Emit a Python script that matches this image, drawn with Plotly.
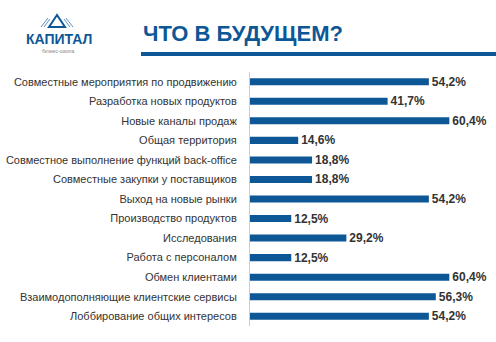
import plotly.graph_objects as go

categories = [
    "Совместные мероприятия по продвижению",
    "Разработка новых продуктов",
    "Новые каналы продаж",
    "Общая территория",
    "Совместное выполнение функций back-office",
    "Совместные закупки у поставщиков",
    "Выход на новые рынки",
    "Производство продуктов",
    "Исследования",
    "Работа с персоналом",
    "Обмен клиентами",
    "Взаимодополняющие клиентские сервисы",
    "Лоббирование общих интересов",
]
values = [54.2, 41.7, 60.4, 14.6, 18.8, 18.8, 54.2, 12.5, 29.2, 12.5, 60.4, 56.3, 54.2]
value_labels = ["54,2%", "41,7%", "60,4%", "14,6%", "18,8%", "18,8%", "54,2%",
                "12,5%", "29,2%", "12,5%", "60,4%", "56,3%", "54,2%"]
title_text = "ЧТО В БУДУЩЕМ?"
logo_text = "КАПИТАЛ"
logo_sub = "бизнес-школа"

W, H = 496, 342
L, R, T, B = 250, 6, 72, 16
BLUE = "#0d5797"


def px(x):
    return (x - L) / (W - L - R)


def py(y):
    return (H - B - y) / (H - T - B)


fig = go.Figure(go.Bar(
    y=categories,
    x=values,
    orientation="h",
    marker=dict(color=BLUE, line=dict(width=0)),
    width=0.36,
    text=value_labels,
    textposition="outside",
    textfont=dict(family="Liberation Sans", size=12, color="#333333", weight="bold"),
    constraintext="none",
    cliponaxis=False,
))

shapes = [
    dict(type="line", xref="paper", yref="paper", x0=px(141), x1=px(496), y0=py(54), y1=py(54),
         line=dict(color=BLUE, width=4)),
]
# logo icon: triangle with side wings
tri = "M {},{} L {},{} L {},{} Z".format(px(49), py(27), px(57), py(15), px(65), py(27))
shapes.append(dict(type="path", xref="paper", yref="paper", path=tri,
                   line=dict(color=BLUE, width=2), fillcolor="rgba(0,0,0,0)"))
for (x0, y0, x1, y1) in [(44, 27, 50, 19), (41, 27, 48, 18), (70, 27, 64, 19), (73, 27, 66, 18)]:
    shapes.append(dict(type="line", xref="paper", yref="paper", x0=px(x0), y0=py(y0), x1=px(x1), y1=py(y1),
                       line=dict(color="#5d8fc0", width=1)))

annotations = [
    dict(text=title_text, xref="paper", yref="paper", x=px(141), y=py(33), xanchor="left", yanchor="middle",
         showarrow=False, font=dict(family="Liberation Sans", size=22, color=BLUE, weight="bold")),
    dict(text=logo_text, xref="paper", yref="paper", x=px(58.5), y=py(38.5), xanchor="center", yanchor="middle",
         showarrow=False, font=dict(family="Liberation Sans", size=14, color=BLUE, weight="bold")),
    dict(text=logo_sub, xref="paper", yref="paper", x=px(58.5), y=py(51), xanchor="center", yanchor="middle",
         showarrow=False, font=dict(family="Liberation Sans", size=5, color="#888888")),
]

fig.update_layout(
    width=W, height=H, autosize=False,
    margin=dict(l=L, r=R, t=T, b=B, pad=0),
    paper_bgcolor="white", plot_bgcolor="white",
    showlegend=False,
    shapes=shapes,
    annotations=annotations,
    xaxis=dict(range=[0, (W - L - R) / 3.3], visible=False, fixedrange=True),
    yaxis=dict(autorange="reversed", showline=True, linecolor="#cccccc", linewidth=1,
               showgrid=False, zeroline=False, ticks="", ticklabelstandoff=10,
               tickfont=dict(family="Liberation Sans", size=11, color="#333333"), fixedrange=True),
)

fig.write_html("out.html", config={"displayModeBar": False})
